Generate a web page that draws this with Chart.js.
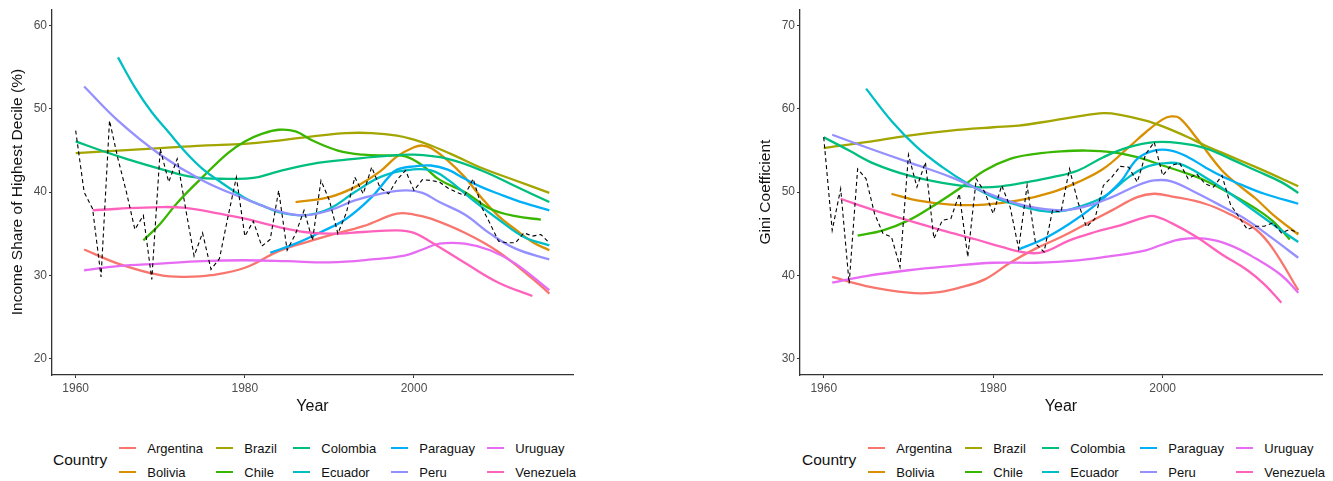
<!DOCTYPE html>
<html>
<head>
<meta charset="utf-8">
<script src="https://cdn.jsdelivr.net/npm/chart.js@4.4.1/dist/chart.umd.min.js"></script>
<style>
  body { margin: 0; background: #fff; width: 1333px; height: 481px; overflow: hidden;
         font-family: "Liberation Sans", Arial, sans-serif; }
  .panel { position: absolute; top: 0; }
  .legend { position: absolute; top: 436px; display: flex; align-items: center; }
  .legend .ttl { font-size: 15.5px; color: #111; margin-right: 12px; }
  .legend .keys { display: grid; grid-template-rows: 24px 24px; grid-auto-flow: column;
                  grid-template-columns: 97px 77px 98px 96px auto; }
  .legend .item { display: flex; align-items: center; font-size: 13px; color: #111; }
  .legend .key { width: 17px; height: 2px; margin-right: 11px; }
</style>
</head>
<body>
<div class="panel" style="left:0px"><canvas id="incomeChart" width="600" height="420"></canvas></div>
<div class="panel" style="left:748px"><canvas id="giniChart" width="585" height="420"></canvas></div>
<div class="legend" id="legendLeft" style="left:53px"></div>
<div class="legend" id="legendRight" style="left:802px"></div>

<script>
// --- data ---
const countries = ['Argentina', 'Bolivia', 'Brazil', 'Chile', 'Colombia',
                   'Ecuador', 'Paraguay', 'Peru', 'Uruguay', 'Venezuela'];
const countryColors = ['#F8766D', '#D89000', '#A3A500', '#39B600', '#00BF7D',
                       '#00BFC4', '#00B0F6', '#9590FF', '#E76BF3', '#FF62BC'];

const xTicks = [1960, 1980, 2000];
const yearRange = [1960, 2016];
const incomeTicks = [20, 30, 40, 50, 60];
const giniTicks = [30, 40, 50, 60, 70];

// income share of highest decile, smoothed country trends [year, value]
const incArgentina = [[1961,33.1],[1965,31.4],[1970,30.0],[1973,29.8],[1976,30.0],[1980,30.9],[1984,32.9],[1987,33.9],[1990,34.8],[1994,35.9],[1998,37.4],[2000,37.3],[2002,36.8],[2006,35.1],[2010,32.8],[2014,29.6],[2016,27.8]];
const incBolivia = [[1986,38.8],[1990,39.4],[1993,40.6],[1996,42.5],[1998,44.3],[2000,45.4],[2001,45.6],[2002,45.3],[2004,43.8],[2006,41.8],[2008,39.3],[2010,37.1],[2012,35.5],[2014,34.0],[2016,33.0]];
const incBrazil = [[1960,44.7],[1965,45.0],[1970,45.3],[1975,45.6],[1980,45.8],[1984,46.2],[1988,46.7],[1992,47.1],[1995,47.1],[1998,46.8],[2000,46.3],[2002,45.6],[2005,44.3],[2008,42.9],[2012,41.4],[2016,39.9]];
const incChile = [[1968,34.2],[1970,36.2],[1972,38.7],[1975,41.8],[1978,44.7],[1980,46.1],[1982,47.0],[1984,47.5],[1986,47.3],[1988,46.2],[1991,45.0],[1994,44.5],[1997,44.4],[1999,44.3],[2001,43.2],[2003,41.5],[2006,40.0],[2009,38.0],[2012,37.1],[2015,36.7]];
const incColombia = [[1960,46.1],[1963,45.0],[1966,44.0],[1970,42.8],[1974,41.8],[1978,41.6],[1981,41.7],[1984,42.5],[1988,43.4],[1992,43.9],[1996,44.3],[2000,44.5],[2004,44.0],[2008,42.6],[2012,40.7],[2016,38.8]];
const incEcuador = [[1965,56.2],[1967,52.6],[1969,49.6],[1971,47.2],[1973,44.8],[1975,42.8],[1977,41.3],[1980,39.3],[1982,38.4],[1984,37.6],[1987,37.2],[1990,38.0],[1993,40.0],[1996,41.8],[1999,42.6],[2002,42.6],[2004,41.5],[2007,39.0],[2010,36.7],[2013,34.6],[2016,33.6]];
const incParaguay = [[1983,32.7],[1986,33.8],[1989,35.2],[1992,36.8],[1995,39.4],[1997,41.8],[1998,42.7],[2000,43.1],[2002,43.2],[2004,42.7],[2006,41.6],[2008,40.6],[2010,39.8],[2013,38.7],[2016,37.8]];
const incPeru = [[1961,52.7],[1965,48.6],[1970,44.5],[1975,41.4],[1980,39.2],[1984,37.7],[1987,37.2],[1990,37.8],[1993,39.0],[1996,39.8],[1999,40.2],[2001,39.9],[2003,38.8],[2006,37.3],[2009,35.0],[2012,33.2],[2016,31.9]];
const incUruguay = [[1961,30.6],[1965,31.1],[1970,31.4],[1975,31.7],[1980,31.8],[1985,31.7],[1990,31.55],[1995,31.9],[1999,32.4],[2001,33.1],[2003,33.8],[2006,33.8],[2009,33.0],[2012,31.4],[2016,28.2]];
const incVenezuela = [[1962,37.8],[1965,38.0],[1970,38.2],[1973,38.1],[1977,37.4],[1980,36.8],[1984,35.8],[1987,35.2],[1990,35.0],[1994,35.2],[1998,35.4],[2000,35.1],[2002,34.0],[2006,31.5],[2010,29.1],[2014,27.5]];

// gini coefficient, smoothed country trends [year, value]
const giniArgentina = [[1961,39.8],[1965,38.7],[1970,37.9],[1973,37.9],[1976,38.5],[1979,39.5],[1982,41.5],[1985,43.2],[1988,44.6],[1991,46.2],[1994,47.8],[1997,49.4],[1999,49.8],[2001,49.5],[2005,48.6],[2008,47.3],[2011,45.5],[2013,43.2],[2016,38.2]];
const giniBolivia = [[1968,49.8],[1971,49.0],[1975,48.5],[1979,48.5],[1983,49.0],[1987,50.0],[1990,51.2],[1993,52.8],[1996,55.4],[1998,57.2],[2000,58.75],[2001,59.1],[2002,58.9],[2004,56.5],[2007,52.6],[2009,50.8],[2011,49.2],[2013,47.3],[2016,44.9]];
const giniBrazil = [[1960,55.3],[1965,56.0],[1970,56.8],[1975,57.4],[1980,57.8],[1983,58.0],[1987,58.6],[1990,59.1],[1993,59.5],[1995,59.3],[1998,58.6],[2000,57.9],[2003,56.6],[2005,55.6],[2008,54.3],[2011,53.0],[2013,52.1],[2016,50.7]];
const giniChile = [[1964,44.75],[1967,45.4],[1970,46.6],[1973,48.4],[1976,50.4],[1979,52.6],[1982,54.0],[1985,54.6],[1988,54.9],[1991,55.0],[1994,54.8],[1997,54.2],[2000,53.2],[2003,52.2],[2005,51.4],[2008,49.8],[2011,48.0],[2013,46.5],[2015,44.3]];
const giniColombia = [[1960,56.6],[1963,55.0],[1966,53.4],[1970,52.0],[1974,51.1],[1978,50.6],[1981,50.7],[1984,51.2],[1987,51.8],[1990,52.6],[1993,54.2],[1996,55.4],[1999,56.0],[2002,55.9],[2005,55.3],[2008,54.0],[2011,52.6],[2014,51.2],[2016,49.9]];
const giniEcuador = [[1965,62.45],[1968,58.55],[1971,55.4],[1974,53.0],[1977,51.0],[1980,49.4],[1983,48.4],[1986,47.7],[1988,47.7],[1990,48.2],[1993,49.4],[1996,51.8],[1998,53.0],[2000,53.45],[2002,53.4],[2005,51.8],[2008,49.8],[2011,47.6],[2014,45.4],[2016,44.0]];
const giniParaguay = [[1983,43.1],[1986,44.4],[1989,46.2],[1992,48.4],[1995,51.2],[1997,54.0],[1999,55.0],[2001,55.0],[2003,54.2],[2005,53.0],[2007,51.9],[2009,51.0],[2012,49.8],[2016,48.6]];
const giniPeru = [[1961,56.9],[1965,55.4],[1970,53.6],[1975,51.8],[1980,49.6],[1984,48.3],[1988,47.8],[1991,48.3],[1994,49.4],[1997,50.8],[1999,51.4],[2001,51.3],[2004,49.9],[2007,48.3],[2010,46.6],[2013,44.4],[2016,42.1]];
const giniUruguay = [[1961,39.1],[1965,39.9],[1970,40.6],[1975,41.1],[1980,41.5],[1985,41.5],[1990,41.8],[1995,42.45],[1998,43.0],[2000,43.7],[2002,44.3],[2005,44.4],[2008,43.6],[2011,42.0],[2014,40.0],[2016,37.9]];
const giniVenezuela = [[1962,49.2],[1966,47.8],[1970,46.6],[1974,45.4],[1978,44.3],[1981,43.4],[1984,42.7],[1986,42.8],[1989,44.2],[1992,45.2],[1995,46.0],[1998,47.0],[1999,47.1],[2001,46.3],[2004,44.6],[2007,42.5],[2010,40.6],[2012,38.9],[2014,36.7]];

// yearly dashed series 1960..2016
const dashYears = [1960,1961,1962,1963,1964,1965,1966,1967,1968,1969,1970,1971,1972,1973,1974,1975,1976,1977,1978,1979,
                   1980,1981,1982,1983,1984,1985,1986,1987,1988,1989,1990,1991,1992,1993,1994,1995,1996,1997,1998,1999,
                   2000,2001,2002,2003,2004,2005,2006,2007,2008,2009,2010,2011,2012,2013,2014,2015,2016];
const incDashed = [47.4,40.0,38.0,29.8,48.6,44.0,40.0,35.5,37.2,29.5,45.2,41.2,44.0,38.0,32.3,35.1,30.7,32.0,37.0,41.8,
                   34.7,36.5,33.5,34.3,40.2,33.0,35.0,37.8,34.2,41.4,39.0,35.0,37.5,41.8,39.8,43.0,40.5,39.8,41.5,42.6,
                   40.2,41.5,41.4,41.2,40.5,40.0,39.6,41.6,38.2,36.2,34.1,33.9,33.9,35.1,34.7,34.9,33.9];
const giniDashed = [56.6,45.4,50.4,39.0,52.8,51.6,47.4,45.0,44.6,41.0,54.5,50.6,53.6,44.4,46.6,46.8,49.8,42.2,51.6,50.0,
                    47.4,50.8,48.2,43.2,50.8,43.8,42.8,47.8,47.6,52.8,48.8,45.8,46.8,50.8,51.8,53.1,53.0,51.2,54.6,56.0,
                    52.0,53.2,53.5,51.6,52.2,51.0,50.6,52.0,48.5,47.0,45.5,45.9,45.9,46.3,45.1,45.5,45.1];

const incomeSeries = [incArgentina, incBolivia, incBrazil, incChile, incColombia,
                      incEcuador, incParaguay, incPeru, incUruguay, incVenezuela];
const giniSeries = [giniArgentina, giniBolivia, giniBrazil, giniChile, giniColombia,
                    giniEcuador, giniParaguay, giniPeru, giniUruguay, giniVenezuela];

Chart.defaults.font.family = '"Liberation Sans", Arial, sans-serif';

function buildDatasets(series, dashed) {
    const sets = series.map((pts, i) => ({
        label: countries[i],
        data: pts.map(p => ({ x: p[0], y: p[1] })),
        borderColor: countryColors[i],
        borderWidth: 2.3,
        pointRadius: 0,
        tension: 0.4,
        order: countries.length - i
    }));
    sets.push({
        label: 'dashed',
        data: dashYears.map((yr, i) => ({ x: yr, y: dashed[i] })),
        borderColor: '#000',
        borderWidth: 1.1,
        borderDash: [4, 3],
        pointRadius: 0,
        tension: 0,
        order: 0
    });
    return sets;
}

function expand(lo, hi) {
    const pad = (hi - lo) * 0.05;
    return [lo - pad, hi + pad];
}

function makeChart(id, series, dashed, yTicks, yTitle, padRight) {
    const [xMin, xMax] = expand(yearRange[0], yearRange[1]);
    const [yMin, yMax] = expand(yTicks[0], yTicks[yTicks.length - 1]);
    const axisGrid = { drawOnChartArea: false, drawTicks: true, tickLength: 3, color: '#333', lineWidth: 1 };
    const axisBorder = { display: true, color: '#333', width: 1.3 };
    const tickFont = { size: 12 };

    return new Chart(document.getElementById(id), {
        type: 'line',
        data: { datasets: buildDatasets(series, dashed) },
        options: {
            responsive: false,
            animation: false,
            layout: { padding: { left: 8, top: 7, right: padRight, bottom: 0 } },
            plugins: { legend: { display: false }, tooltip: { enabled: false } },
            scales: {
                x: {
                    type: 'linear',
                    min: xMin,
                    max: xMax,
                    grid: axisGrid,
                    border: axisBorder,
                    afterBuildTicks: s => { s.ticks = xTicks.map(v => ({ value: v })); },
                    afterFit: s => { s.height = 45; },
                    ticks: { color: '#4D4D4D', font: tickFont, padding: 3, maxRotation: 0,
                             callback: v => String(v) },
                    title: { display: true, text: 'Year', color: '#111', font: { size: 16 },
                             padding: { top: 0, bottom: 4 } }
                },
                y: {
                    type: 'linear',
                    min: yMin,
                    max: yMax,
                    grid: axisGrid,
                    border: axisBorder,
                    afterBuildTicks: s => { s.ticks = yTicks.map(v => ({ value: v })); },
                    afterFit: s => { s.width = 44; },
                    ticks: { color: '#4D4D4D', font: tickFont, padding: 2,
                             callback: v => String(v) },
                    title: { display: true, text: yTitle, color: '#111', font: { size: 15.5 },
                             padding: { top: 0, bottom: 0 } }
                }
            }
        }
    });
}

function buildLegend(id) {
    const box = document.getElementById(id);
    const ttl = document.createElement('div');
    ttl.className = 'ttl';
    ttl.textContent = 'Country';
    box.appendChild(ttl);
    const keys = document.createElement('div');
    keys.className = 'keys';
    countries.forEach((name, i) => {
        const item = document.createElement('div');
        item.className = 'item';
        const key = document.createElement('span');
        key.className = 'key';
        key.style.background = countryColors[i];
        const txt = document.createElement('span');
        txt.textContent = name;
        item.appendChild(key);
        item.appendChild(txt);
        keys.appendChild(item);
    });
    box.appendChild(keys);
}

makeChart('incomeChart', incomeSeries, incDashed, incomeTicks, 'Income Share of Highest Decile (%)', 27);
makeChart('giniChart', giniSeries, giniDashed, giniTicks, 'Gini Coefficient', 11);
buildLegend('legendLeft');
buildLegend('legendRight');
</script>
</body>
</html>
